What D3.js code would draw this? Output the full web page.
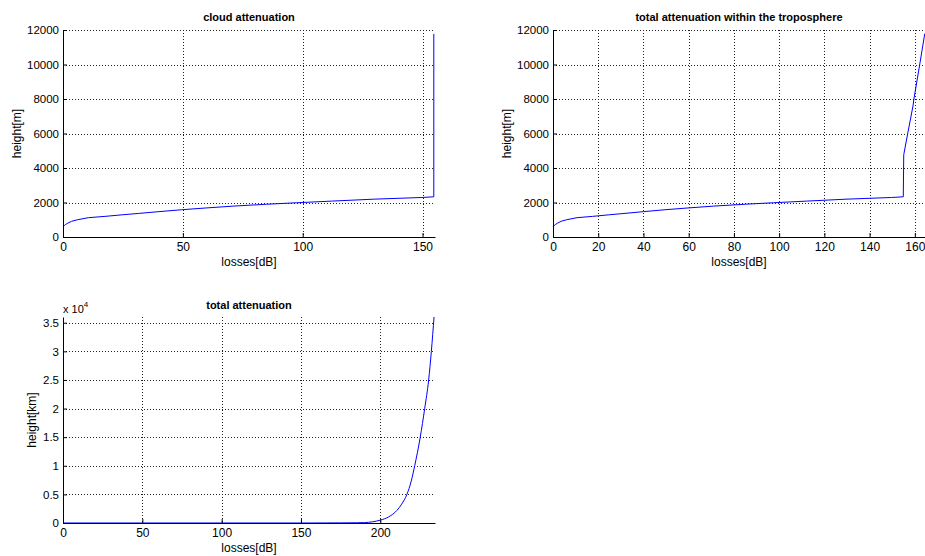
<!doctype html>
<html>
<head>
<script src="https://d3js.org/d3.v7.min.js"></script>
<style>
body {margin: 0; background: #fff;}
svg text {font-family: "Liberation Sans", Arial, Helvetica, sans-serif; fill: #000;}
</style>
</head>
<body>
<svg id="fig" width="925" height="556"></svg>
<script>

// cloud attenuation (losses in dB, height in m)
var cloudLosses  = [0, 0.5, 1, 2, 3.6, 6, 10.6, 17.5, 25, 31.4, 40, 49.5, 59.3, 71, 85, 97.5, 112, 130, 149.7, 154.7, 154.7];
var cloudHeights = [580, 660, 720, 800, 910, 1000, 1120, 1195, 1290, 1365, 1470, 1580, 1680, 1790, 1900, 1985, 2080, 2195, 2290, 2330, 11770];

// total attenuation within the troposphere
var tropoLosses  = [0, 0.5, 1, 2, 3.6, 6, 10.6, 17.5, 25, 31.4, 40, 49.5, 59.3, 71, 85, 97.5, 112, 130, 149.7, 154.9, 155.1, 156.9, 159.2, 159.6, 162.2, 164.4];
var tropoHeights = [580, 660, 720, 800, 910, 1000, 1120, 1195, 1290, 1365, 1470, 1580, 1680, 1790, 1900, 1985, 2080, 2195, 2290, 2330, 4770, 6030, 7600, 8000, 10030, 11790];

// total attenuation (height in km)
var totalLosses  = [0, 50, 100, 155, 164.4, 175, 185, 190, 195, 200, 205.2, 210.5, 213.5, 216.8, 219.5, 221.7, 225.2, 228, 230.5, 232.2, 233.9];
var totalHeights = [0.6, 1.6, 2, 2.3, 11.8, 20, 40, 70, 200, 500, 1050, 2200, 3300, 5000, 7300, 10000, 15000, 20000, 25000, 30000, 36000];

// ticks
var xTicks1 = [0, 50, 100, 150];
var xTicks2 = [0, 20, 40, 60, 80, 100, 120, 140, 160];
var xTicks3 = [0, 50, 100, 150, 200];
var yTicksM = [0, 2000, 4000, 6000, 8000, 10000, 12000];
var yTicks3 = [0, 5000, 10000, 15000, 20000, 25000, 30000, 35000];
var yTickLabels3 = ["0", "0.5", "1", "1.5", "2", "2.5", "3", "3.5"];

var svg = d3.select("#fig");
svg.append("rect").attr("width", 925).attr("height", 556).attr("fill", "#fff");

function drawPanel(p) {
    var g = svg.append("g");
    var x = d3.scaleLinear().domain(p.xDomain).range([p.left, p.right]);
    var y = d3.scaleLinear().domain(p.yDomain).range([p.bottom, p.top]);

    // dotted grid
    g.append("g").selectAll("line").data(p.xTicks.filter(function(d) { return d > 0; }))
        .join("line")
        .attr("x1", function(d) { return Math.round(x(d)) + 0.5; })
        .attr("x2", function(d) { return Math.round(x(d)) + 0.5; })
        .attr("y1", p.top).attr("y2", p.bottom)
        .attr("stroke", "#222").attr("stroke-dasharray", "1,2");
    g.append("g").selectAll("line").data(p.yTicks.filter(function(d) { return d > 0; }))
        .join("line")
        .attr("y1", function(d) { return Math.round(y(d)) + 0.5; })
        .attr("y2", function(d) { return Math.round(y(d)) + 0.5; })
        .attr("x1", p.left).attr("x2", p.right)
        .attr("stroke", "#222").attr("stroke-dasharray", "1,2");

    // data line
    var line = d3.line()
        .x(function(d) { return x(d[0]); })
        .y(function(d) { return y(d[1]); })
        .curve(p.curve || d3.curveLinear);
    g.append("path")
        .datum(d3.zip(p.losses, p.heights))
        .attr("d", line)
        .attr("fill", "none")
        .attr("stroke", "#0000ff")
        .attr("stroke-width", 1);

    // axes, ticks inside
    var xa = g.append("g").attr("transform", "translate(0," + p.bottom + ")")
        .call(d3.axisBottom(x).tickValues(p.xTicks).tickSize(-4).tickSizeOuter(0).tickPadding(5));
    var ya = g.append("g").attr("transform", "translate(" + p.left + ",0)")
        .call(d3.axisLeft(y).tickValues(p.yTicks).tickSize(-4).tickSizeOuter(0).tickPadding(4)
            .tickFormat(p.yFormat || function(d) { return d; }));
    xa.selectAll("text").style("font-size", "12px");
    ya.selectAll("text").style("font-size", "11.5px");
    xa.select(".domain").attr("stroke", "#000");
    ya.select(".domain").attr("stroke", "#000");

    // labels
    g.append("text")
        .attr("x", (p.left + p.right) / 2).attr("y", p.titleY)
        .attr("text-anchor", "middle")
        .style("font-size", "11px").style("font-weight", "bold")
        .text(p.title);
    g.append("text")
        .attr("x", (p.left + p.right) / 2).attr("y", p.bottom + 29)
        .attr("text-anchor", "middle")
        .style("font-size", "12px")
        .text("losses[dB]");
    g.append("text")
        .attr("transform", "translate(" + p.yLabelX + "," + (p.top + p.bottom) / 2 + ") rotate(-90)")
        .attr("text-anchor", "middle")
        .style("font-size", "12px")
        .text(p.yLabel);
}

drawPanel({
    left: 63, right: 435, top: 30, bottom: 237,
    xDomain: [0, 155.2], yDomain: [0, 12000],
    xTicks: xTicks1, yTicks: yTicksM,
    losses: cloudLosses, heights: cloudHeights,
    title: "cloud attenuation", titleY: 21,
    yLabel: "height[m]", yLabelX: 21
});

drawPanel({
    left: 553, right: 925, top: 30, bottom: 237,
    xDomain: [0, 164.5], yDomain: [0, 12000],
    xTicks: xTicks2, yTicks: yTicksM,
    losses: tropoLosses, heights: tropoHeights,
    title: "total attenuation within the troposphere", titleY: 21,
    yLabel: "height[m]", yLabelX: 511
});

drawPanel({
    left: 63, right: 435, top: 317, bottom: 523,
    xDomain: [0, 234.5], yDomain: [0, 36000],
    xTicks: xTicks3, yTicks: yTicks3,
    yFormat: function(d) { return yTickLabels3[yTicks3.indexOf(d)]; },
    losses: totalLosses, heights: totalHeights,
    curve: d3.curveMonotoneX,
    title: "total attenuation", titleY: 309,
    yLabel: "height[km]", yLabelX: 36
});

// exponent label of the bottom y axis
var expo = svg.append("text").attr("x", 63).attr("y", 313).style("font-size", "11px");
expo.append("tspan").text("x 10");
expo.append("tspan").attr("dy", -6).style("font-size", "8px").text("4");

</script>
</body>
</html>
